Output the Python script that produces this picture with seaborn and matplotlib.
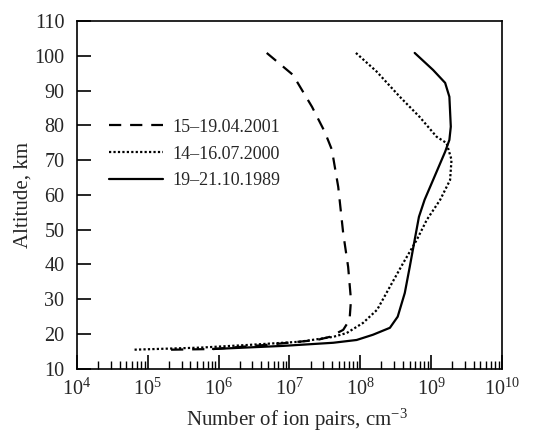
import numpy as np
import pandas as pd
import matplotlib
matplotlib.use("Agg")
import matplotlib.pyplot as plt
from matplotlib.ticker import LogFormatterSciNotation, NullFormatter, FixedLocator
import seaborn as sns

# Ion pair profiles: log10(ion pairs per cm^3) versus altitude (km)
labels = ["15\u201319.04.2001", "14\u201316.07.2000", "19\u201321.10.1989"]

alt_2001 = [100.8, 94.5, 85.3, 78.1, 73.0, 62.3, 49.0, 39.3, 29.8, 24.1, 21.2, 19.2, 18.3, 16.9, 15.7, 15.5]
log_2001 = [6.68, 7.05, 7.32, 7.50, 7.60, 7.69, 7.76, 7.83, 7.87, 7.85, 7.76, 7.57, 7.39, 6.68, 5.92, 5.31]

alt_2000 = [100.8, 95.5, 88.2, 82.4, 76.7, 74.9, 70.1, 64.3, 58.6, 52.8, 47.1, 40.5, 33.6, 27.0, 23.2, 20.3, 19.2, 17.8, 16.9, 16.1, 15.5]
log_2000 = [7.94, 8.23, 8.56, 8.84, 9.08, 9.22, 9.29, 9.27, 9.13, 8.94, 8.80, 8.61, 8.42, 8.24, 8.04, 7.81, 7.62, 7.15, 6.44, 5.74, 4.79]

alt_1989 = [100.8, 95.9, 92.2, 88.2, 79.6, 75.8, 72.4, 64.3, 58.6, 53.7, 47.1, 39.3, 31.8, 25.0, 21.8, 19.8, 18.3, 17.5, 16.6, 15.7]
log_1989 = [8.77, 9.03, 9.20, 9.26, 9.28, 9.26, 9.20, 9.03, 8.91, 8.83, 8.77, 8.70, 8.63, 8.53, 8.42, 8.18, 7.95, 7.62, 6.91, 5.92]

y_ticks = list(range(10, 111, 10))
x_decades = list(range(4, 11))

frames = []
for lab, alts, logs in [(labels[0], alt_2001, log_2001),
                        (labels[1], alt_2000, log_2000),
                        (labels[2], alt_1989, log_1989)]:
    frames.append(pd.DataFrame({"ions": np.power(10.0, logs), "alt": alts, "series": lab}))
df = pd.concat(frames, ignore_index=True)

sns.set_style("white")
plt.rcParams["font.family"] = ["Liberation Serif", "DejaVu Serif"]
plt.rcParams["mathtext.fontset"] = "custom"
plt.rcParams["mathtext.rm"] = "Liberation Serif"
plt.rcParams["mathtext.it"] = "Liberation Serif:italic"
plt.rcParams["mathtext.bf"] = "Liberation Serif:bold"

TICK_FS = 14.5
LABEL_FS = 15
LEG_FS = 13

fig, ax = plt.subplots(figsize=(5.46, 4.36), dpi=100)
fig.subplots_adjust(left=0.141, right=0.919, top=0.952, bottom=0.154)

styles = {labels[0]: (0, (5.5, 4.0)), labels[1]: (0, (1, 1)), labels[2]: "-"}
for lab in labels:
    sub = df[df["series"] == lab]
    sns.lineplot(data=sub, x="ions", y="alt", sort=False, estimator=None,
                 ax=ax, color="black", linewidth=1.6, linestyle=styles[lab], label=lab)

ax.set_xscale("log")
ax.set_xlim(1e4, 1e10)
ax.set_ylim(10, 110)
ax.yaxis.set_major_locator(FixedLocator(y_ticks))
major_x = [10.0 ** d for d in x_decades]
minor_x = [m * 10.0 ** d for d in x_decades[:-1] for m in range(2, 10)]
ax.xaxis.set_major_locator(FixedLocator(major_x))
ax.xaxis.set_major_formatter(LogFormatterSciNotation())
ax.xaxis.set_minor_locator(FixedLocator(minor_x))
ax.xaxis.set_minor_formatter(NullFormatter())

ax.tick_params(axis="x", which="major", direction="in", length=10, width=1.2,
               bottom=True, top=False, labelsize=TICK_FS, pad=7, color="black")
ax.tick_params(axis="x", which="minor", direction="in", length=6, width=1.0,
               bottom=True, top=False, color="black")
ax.tick_params(axis="y", which="major", direction="in", length=10, width=1.2,
               left=True, right=False, labelsize=TICK_FS, pad=9, color="black")

for sp in ax.spines.values():
    sp.set_color("black")
    sp.set_linewidth(1.2)

ax.set_xlabel("Number of ion pairs, cm$^{-3}$", fontsize=LABEL_FS, labelpad=5)
ax.xaxis.label.set_x(0.517)
ax.set_ylabel("Altitude, km", fontsize=LABEL_FS, labelpad=1)

leg = ax.legend(loc="upper left", bbox_to_anchor=(0.037, 0.766), frameon=False,
                fontsize=LEG_FS, handlelength=3.0, handletextpad=0.5, labelspacing=0.55)

fig.savefig("out.png", dpi=100, facecolor="white")
